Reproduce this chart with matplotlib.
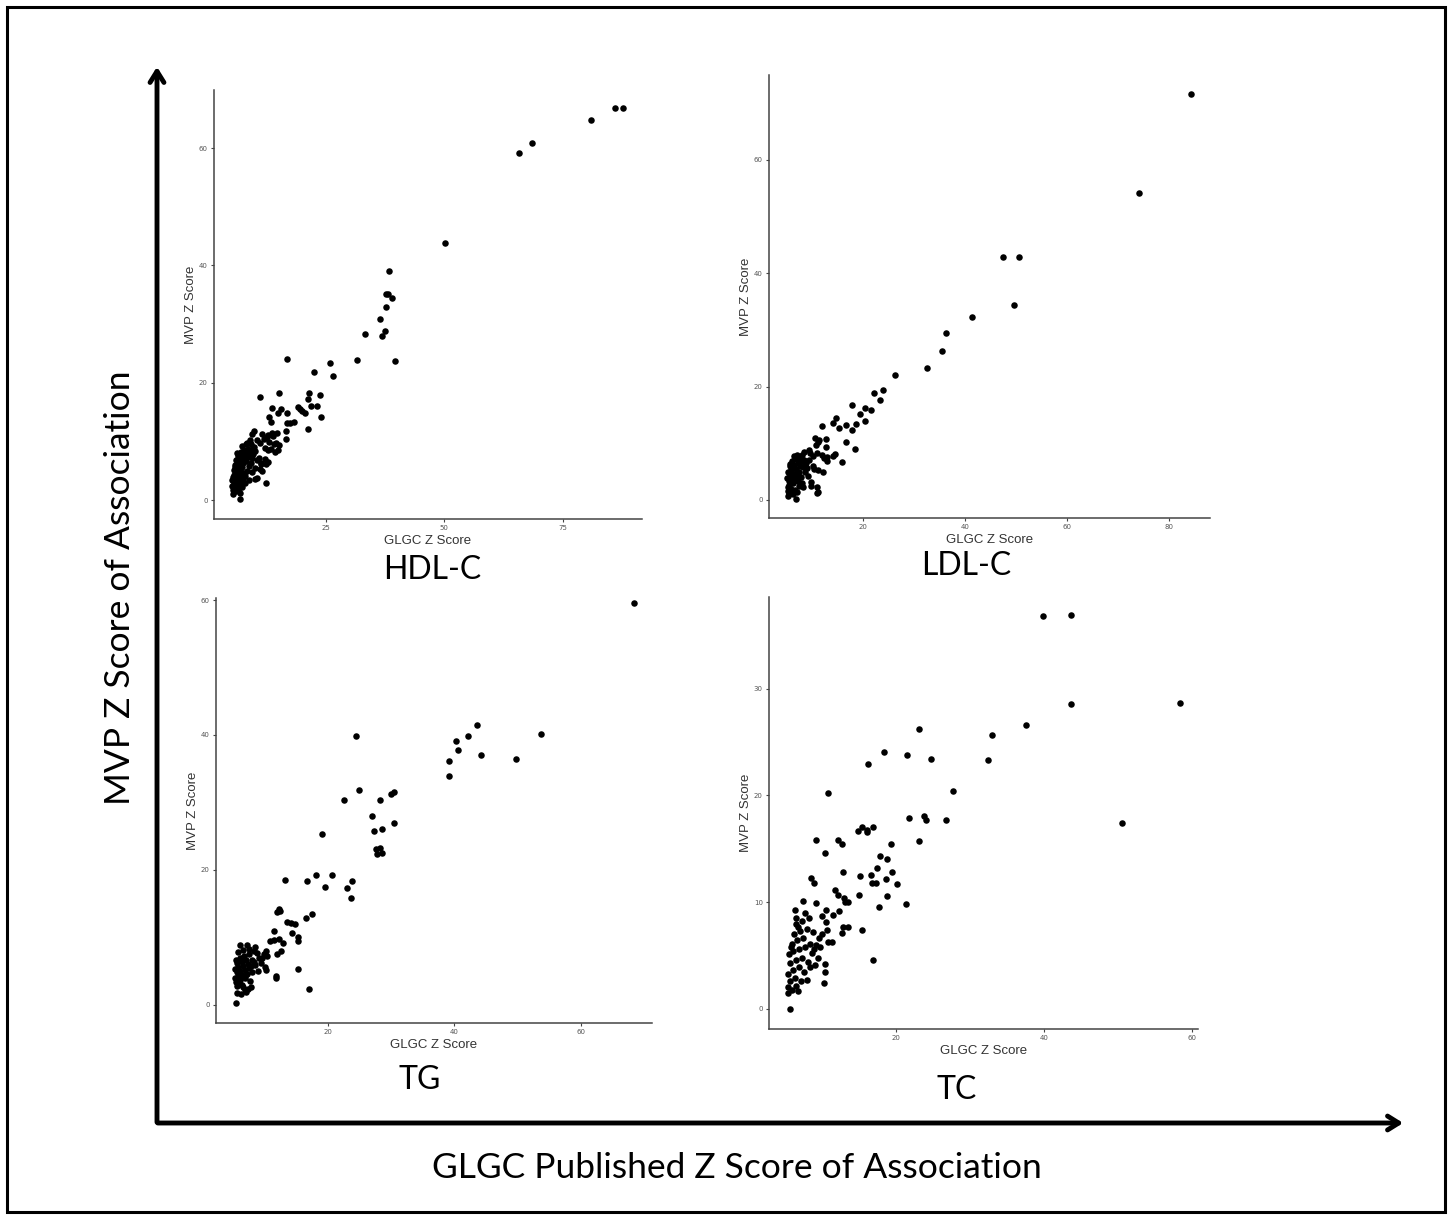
import numpy as np
import matplotlib
matplotlib.use("Agg")
import matplotlib.pyplot as plt
from matplotlib.patches import Rectangle, FancyArrowPatch

# points: (GLGC Z, MVP Z)
hdl_pts = [
    (85.9, 66.8), (87.7, 66.8), (80.9, 64.8), (68.5, 60.9), (65.8, 59.1), (50.2, 43.9),
    (38.4, 39.1), (37.7, 35.1), (38.1, 35.2), (38.9, 34.4), (37.7, 33.0), (36.5, 30.8),
    (37.5, 28.8), (36.8, 28.0), (39.5, 23.75), (33.2, 28.4), (31.5, 23.9),
    (25.8, 23.4), (26.5, 21.25), (22.5, 21.9), (16.8, 24.0), (21.5, 18.35), (23.8, 17.9),
    (21.2, 17.2), (15.2, 18.35), (11.1, 17.6), (21.9, 16.1), (23.2, 16.0),
    (19.2, 15.9), (19.6, 15.6), (20.0, 15.2), (20.5, 14.9), (24.0, 14.1), (21.3, 12.2),
    (13.7, 15.7), (15.6, 15.6), (15.0, 14.8), (16.9, 14.8), (12.9, 14.1), (13.5, 13.35),
    (16.8, 13.1), (17.5, 13.1), (18.2, 13.35), (16.6, 11.8), (16.6, 10.5), (14.6, 11.5),
    (13.6, 11.4), (15.2, 9.4), (15.0, 8.5), (9.9, 11.8), (12.7, 11.1), (12.4, 3.0),
    (10.4, 3.8), (11.5, 5.0), (11.3, 6.4), (12.7, 6.5), (6.8, 0.2),
    (11.5, 11.2), (12.5, 10.8), (14.0, 9.5), (14.5, 9.8), (8.4, 9.7), (9.2, 9.5),
    (9.8, 9.0), (10.1, 8.4), (9.0, 8.2), (9.6, 7.8), (12.1, 8.9), (12.8, 8.6),
    (13.4, 8.7), (14.2, 8.3), (12.1, 7.0), (12.3, 6.1), (11.3, 6.1), (11.2, 5.4),
    (10.1, 3.7), (10.5, 10.2), (11.0, 9.8), (10.8, 7.2), (10.4, 6.8), (13.0, 10.0),
    (13.8, 11.0), (11.9, 10.4),
    (5.5, 1.0), (6.0, 1.5), (5.8, 2.2), (6.3, 2.6), (5.6, 3.0), (6.5, 3.3), (5.9, 3.7),
    (6.8, 3.9), (5.7, 4.3), (6.2, 4.6), (7.0, 4.8), (5.6, 5.2), (6.4, 5.5), (7.3, 5.6),
    (5.9, 6.0), (6.7, 6.2), (7.6, 6.3), (6.1, 6.8), (7.0, 7.0), (8.0, 7.1), (6.5, 7.5),
    (7.4, 7.7), (8.3, 7.8), (7.0, 8.3), (7.8, 8.6), (8.6, 8.8), (7.3, 9.2), (8.1, 9.6),
    (9.0, 10.3), (9.5, 11.3), (5.4, 1.8), (6.6, 2.0), (7.1, 2.9), (7.5, 3.6), (8.0, 4.2),
    (8.4, 5.0), (8.8, 5.8), (9.2, 6.4), (5.3, 3.4), (5.5, 4.0), (6.0, 5.0), (6.9, 5.9),
    (7.7, 4.6), (8.2, 6.6), (9.4, 7.2), (5.2, 2.5), (6.2, 3.1), (6.9, 1.2), (7.9, 3.0),
    (8.6, 7.3), (6.3, 8.0), (5.8, 5.7), (7.2, 6.6), (8.9, 8.2), (9.6, 8.7), (6.6, 4.1),
    (7.4, 2.3), (10.0, 5.5), (9.5, 4.8), (8.7, 3.5),
]

ldl_pts = [
    (84.3, 71.6), (74.2, 54.2), (47.4, 42.8), (50.6, 42.9), (49.6, 34.4), (41.4, 32.2),
    (36.3, 29.4), (35.6, 26.3), (32.6, 23.2), (26.3, 22.0), (24.1, 19.4), (22.2, 18.9),
    (23.4, 17.6), (20.5, 16.3), (18.0, 16.8), (19.6, 15.2), (21.7, 15.9), (20.4, 13.9),
    (14.9, 14.5), (14.3, 13.6), (15.4, 12.7), (16.8, 13.3), (18.7, 13.4), (17.9, 12.4),
    (12.0, 13.1), (16.8, 10.2), (18.5, 8.9), (11.5, 10.6), (12.8, 10.7), (10.9, 9.6),
    (12.9, 9.4), (14.6, 8.1), (14.3, 7.8), (13.1, 7.6), (16.0, 6.7), (12.2, 4.9),
    (12.5, 7.4), (13.0, 6.9), (11.3, 1.35), (11.1, 1.2), (10.0, 2.4), (7.0, 0.2), (5.5, 0.7),
    (10.7, 11.0), (11.2, 10.2), (9.8, 8.2), (8.5, 8.5), (7.1, 8.0), (10.3, 7.8), (11.0, 8.3),
    (12.0, 8.0), (11.2, 5.3), (10.4, 6.0), (10.6, 5.5), (9.6, 7.1), (10.0, 3.2), (11.0, 2.2),
    (9.0, 6.5), (8.8, 5.0), (9.3, 4.2),
    (5.5, 1.5), (6.0, 2.0), (5.7, 2.6), (6.4, 3.0), (5.6, 3.4), (6.2, 3.8), (5.8, 4.2),
    (6.7, 4.5), (5.5, 4.9), (6.1, 5.2), (7.0, 5.5), (5.9, 5.9), (6.6, 6.2), (7.4, 6.5),
    (6.2, 6.8), (7.0, 7.2), (7.7, 7.4), (6.5, 7.7), (7.3, 3.3), (7.9, 4.0), (8.3, 5.8),
    (8.0, 6.8), (7.6, 2.5), (6.8, 1.8), (6.3, 1.0), (5.4, 2.2), (5.3, 3.8), (5.9, 4.6),
    (6.9, 3.6), (7.5, 5.0), (8.2, 3.0), (8.6, 7.0), (5.8, 6.4), (6.4, 5.6), (7.2, 4.2),
    (8.8, 6.2), (9.2, 5.6), (6.0, 2.9), (7.8, 5.9), (5.6, 1.1), (6.6, 3.3), (7.1, 1.4),
    (8.4, 2.2), (9.5, 8.8), (8.2, 8.0),
]

tg_pts = [
    (68.4, 59.5), (43.6, 41.5), (42.1, 39.9), (53.7, 40.2), (40.2, 39.1), (40.6, 37.7),
    (44.2, 37.0), (49.7, 36.5), (39.2, 36.1), (39.2, 33.9), (24.4, 39.9), (24.9, 31.9),
    (22.6, 30.4), (28.3, 30.4), (29.9, 31.2), (30.4, 31.5), (27.0, 28.0), (30.5, 27.0),
    (28.5, 26.0), (27.3, 25.8), (19.0, 25.3), (27.6, 23.1), (28.2, 23.2), (27.8, 22.3),
    (28.6, 22.5), (13.2, 18.5), (16.7, 18.4), (18.1, 19.2), (20.6, 19.3), (19.5, 17.5),
    (23.0, 17.3), (23.8, 18.4), (23.7, 15.8), (16.5, 12.8), (17.4, 13.4), (11.9, 13.7),
    (12.2, 14.2), (12.4, 13.9), (13.5, 12.2), (14.1, 12.1), (14.8, 12.0), (14.3, 10.7),
    (11.4, 11.0), (15.3, 10.0), (15.3, 9.4), (15.3, 5.3), (16.9, 2.4), (10.8, 9.5),
    (11.5, 9.6), (12.3, 9.8), (12.8, 9.2), (12.6, 7.9), (11.9, 7.6), (9.8, 7.5), (10.1, 7.9),
    (10.4, 7.3), (9.3, 6.2), (10.0, 5.6), (10.2, 5.2), (11.7, 4.2), (11.7, 3.95), (7.8, 2.6),
    (5.4, 0.25),
    (5.5, 1.7), (6.2, 1.6), (6.8, 2.2), (5.6, 2.8), (6.3, 3.0), (5.4, 3.4), (6.0, 3.7),
    (6.9, 3.9), (5.7, 4.2), (6.4, 4.4), (7.2, 4.6), (5.5, 4.8), (6.1, 5.0), (6.8, 5.2),
    (7.5, 5.4), (5.8, 5.6), (6.5, 5.8), (7.3, 6.0), (5.6, 6.2), (6.3, 6.4), (7.0, 6.6),
    (7.9, 6.7), (6.0, 7.0), (6.7, 7.3), (7.5, 7.5), (5.8, 7.8), (6.6, 8.1), (7.4, 8.3),
    (8.3, 8.0), (6.1, 8.8), (7.1, 8.9), (8.4, 8.6), (5.3, 4.0), (5.9, 3.2), (7.6, 3.6),
    (8.0, 4.9), (8.5, 5.9), (9.0, 6.9), (8.8, 7.7), (6.5, 2.7), (7.3, 2.3), (5.2, 5.3),
    (6.9, 4.3), (7.8, 5.7), (8.2, 6.3), (5.4, 6.6), (6.4, 6.9), (9.5, 7.0), (8.9, 5.0),
    (7.0, 1.9),
]

tc_pts = [
    (39.9, 36.8), (43.6, 36.9), (43.7, 28.6), (58.4, 28.7), (37.6, 26.6), (33.0, 25.7),
    (32.5, 23.3), (50.6, 17.4), (27.7, 20.4), (26.8, 17.7), (23.8, 18.1), (24.1, 17.7),
    (23.1, 26.2), (21.5, 23.75), (24.8, 23.4), (18.4, 24.1), (16.2, 22.9), (21.8, 17.9),
    (23.1, 15.7), (21.4, 9.8), (20.2, 11.7), (19.5, 12.8), (19.3, 15.4), (18.8, 14.0),
    (18.7, 12.2), (18.8, 10.6), (17.9, 14.3), (17.5, 13.2), (17.7, 9.5), (16.8, 11.8),
    (17.3, 11.8), (16.6, 12.5), (14.9, 16.7), (15.5, 17.0), (16.1, 16.8), (17.0, 17.0),
    (16.1, 16.6), (15.1, 10.7), (15.4, 7.4), (16.9, 4.6), (15.2, 12.4), (10.8, 20.2),
    (12.2, 15.8), (12.8, 15.4), (12.9, 12.8), (9.2, 15.8), (10.5, 14.6), (8.6, 12.3),
    (9.0, 11.8), (9.2, 9.9), (7.5, 10.1), (11.8, 11.1), (12.2, 10.7), (13.2, 10.0),
    (13.6, 10.0), (13.0, 10.4), (12.3, 9.2), (11.5, 8.8), (12.9, 7.7), (13.5, 7.7),
    (12.8, 7.1), (10.6, 9.3), (10.6, 8.1), (10.7, 7.4), (10.0, 8.7), (10.1, 7.0),
    (10.9, 6.3), (11.4, 6.3), (10.5, 4.2), (10.5, 3.4), (10.3, 2.4), (6.4, 9.3),
    (6.6, 8.5), (6.8, 7.7), (5.8, 0.0),
    (5.5, 1.5), (6.0, 1.8), (5.7, 2.6), (6.4, 2.9), (5.5, 3.3), (6.1, 3.6), (6.9, 3.9),
    (5.8, 4.3), (6.5, 4.6), (7.3, 4.8), (5.6, 5.1), (6.2, 5.4), (7.0, 5.6), (7.8, 5.8),
    (6.0, 6.1), (6.7, 6.4), (7.5, 6.6), (8.4, 6.1), (6.3, 7.0), (7.1, 7.3), (8.0, 7.5),
    (6.5, 7.9), (7.4, 8.2), (8.3, 8.5), (8.9, 7.2), (9.3, 6.0), (8.7, 5.2), (9.5, 4.8),
    (9.1, 4.1), (8.2, 4.4), (7.6, 3.4), (7.2, 2.6), (6.6, 2.1), (8.0, 2.7), (9.0, 5.6),
    (9.8, 5.8), (5.4, 2.0), (6.8, 1.7), (8.5, 3.9), (7.8, 9.0), (9.6, 6.6), (5.9, 5.8),
]

panel_names = ["HDL-C", "LDL-C", "TG", "TC"]
x_ticks = [[25, 50, 75], [20, 40, 60, 80], [20, 40, 60], [20, 40, 60]]
y_ticks = [[0, 20, 40, 60], [0, 20, 40, 60], [0, 20, 40, 60], [0, 10, 20, 30]]

W, H = 1452, 1219
fig = plt.figure(figsize=(W / 100, H / 100), dpi=100)

# axes boxes in pixels: left, right, top, bottom
boxes = [(214, 642, 90, 519), (769, 1210, 75, 518), (216, 652, 598, 1023), (769, 1198, 597, 1029)]
xlims = [(1.4, 91.7), (1.7, 88.0), (2.25, 71.3), (2.9, 60.8)]
ylims = [(-3.2, 69.9), (-3.2, 75.0), (-2.7, 60.3), (-1.9, 38.6)]
name_pos = [(432, 570), (966, 566), (420, 1080), (957, 1090)]

for pts, name, xt, yt, box, xl, yl, npos in zip(
        [hdl_pts, ldl_pts, tg_pts, tc_pts], panel_names, x_ticks, y_ticks,
        boxes, xlims, ylims, name_pos):
    l, r, t, b = box
    ax = fig.add_axes([l / W, 1 - b / H, (r - l) / W, (b - t) / H])
    xs, ys = np.array(pts).T
    ax.scatter(xs, ys, s=22, color="black", linewidths=0)
    ax.set_xlim(*xl)
    ax.set_ylim(*yl)
    ax.set_xticks(xt)
    ax.set_yticks(yt)
    for side in ["top", "right"]:
        ax.spines[side].set_visible(False)
    for side in ["left", "bottom"]:
        ax.spines[side].set_color("#444444")
        ax.spines[side].set_linewidth(1.1)
    ax.tick_params(length=2.5, width=0.8, color="#444444", labelsize=5,
                   labelcolor="#555555", pad=2)
    ax.set_xlabel("GLGC Z Score", fontsize=9.5, color="#333333", labelpad=3,
                  family="Liberation Sans")
    ax.set_ylabel("MVP Z Score", fontsize=9.5, color="#333333", labelpad=1,
                  family="Liberation Sans")
    fig.text(npos[0] / W, 1 - npos[1] / H, name, fontsize=23, family="Lato",
             ha="center", va="center")

# frame, big arrows and overall labels
fig.add_artist(Rectangle((7 / W, 1 - 1212 / H), (1445 - 7) / W, (1212 - 7) / H,
                         transform=fig.transFigure, fill=False, lw=2.2, ec="black"))
fig.add_artist(FancyArrowPatch(
    (157 / W, 1 - 1125 / H), (157 / W, 1 - 64 / H), transform=fig.transFigure,
    arrowstyle="->,head_length=8,head_width=5", lw=3.5, color="black"))
fig.add_artist(FancyArrowPatch(
    (155 / W, 1 - 1123 / H), (1406 / W, 1 - 1123 / H), transform=fig.transFigure,
    arrowstyle="->,head_length=8,head_width=5", lw=3.5, color="black"))
fig.text(120 / W, 1 - 588 / H, "MVP Z Score of Association", rotation=90,
         fontsize=25.5, family="Lato", ha="center", va="center")
fig.text(737 / W, 1 - 1168 / H, "GLGC Published Z Score of Association",
         fontsize=25.5, family="Lato", ha="center", va="center")

fig.savefig("out.png", dpi=100, facecolor="white")
